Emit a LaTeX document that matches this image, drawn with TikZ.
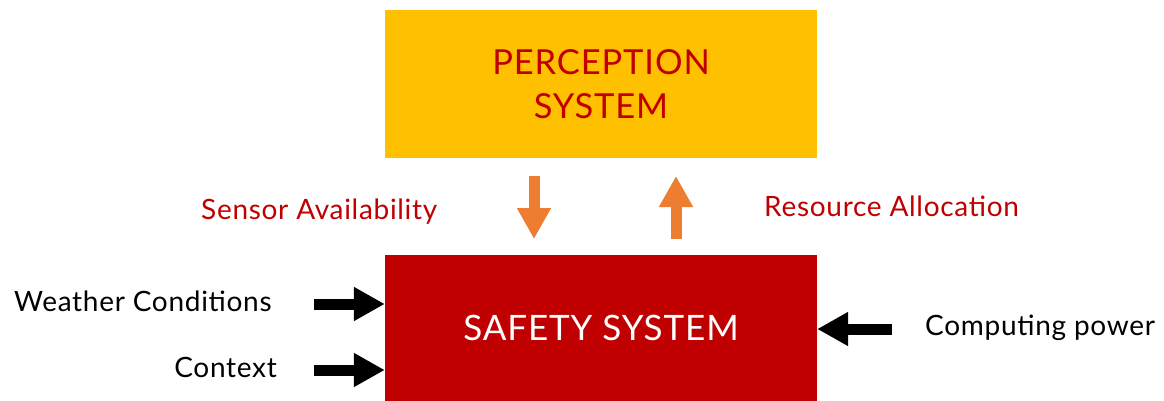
\documentclass[tikz,border=0pt]{standalone}
\usepackage{fontspec}
\setmainfont{Lato}[LetterSpace=2.5]
\usetikzlibrary{arrows.meta}
\definecolor{boxyellow}{HTML}{FFC000}
\definecolor{boxred}{HTML}{C00000}
\definecolor{arrorange}{HTML}{ED7D31}
\begin{document}
\begin{tikzpicture}[x=1pt,y=-1pt,
    block/.style={shape=rectangle, minimum width=432pt, inner sep=0pt},
    label/.style={font=\fontsize{28}{32}\selectfont, inner sep=0pt},
    fat/.style={-{Triangle[length=31pt,width=32pt]}, line width=11pt}]
    \useasboundingbox (0,0) rectangle (1164,401);

    \node[block, fill=boxyellow, minimum height=148pt, text=boxred, align=center,
          font=\fontsize{34.5}{44}\selectfont] (P) at (601,84) {PERCEPTION\\SYSTEM};
    \node[block, fill=boxred, minimum height=146pt, text=white,
          font=\fontsize{35}{40}\selectfont] (S) at (601,328) {SAFETY SYSTEM};

    \node[label, text=boxred, anchor=base west] (SA) at (201,219) {Sensor Availability};
    \node[label, text=boxred, anchor=base west] (RA) at (764,216) {Resource Allocation};
    \node[label, anchor=base west] (W) at (14,311) {Weather Conditions};
    \node[label, anchor=base east] (C) at (277,377) {Context};
    \node[label, anchor=base west] (CP) at (925,335) {Computing power};

    \coordinate (d1) at (534,176);
    \coordinate (d2) at (534,239);
    \coordinate (u1) at (676,239);
    \coordinate (u2) at (676,176);
    \coordinate (w1) at (314,304);
    \coordinate (c1) at (314,370);
    \coordinate (p1) at (892,329);

    \draw [fat, arrorange] (d1) -- (d2);
    \draw [fat, arrorange] (u1) -- (u2);
    \path [fat] (w1) edge (S.west |- w1);
    \path [fat] (c1) edge (S.west |- c1);
    \path [fat] (p1) edge (S.east |- p1);

\end{tikzpicture}
\end{document}
